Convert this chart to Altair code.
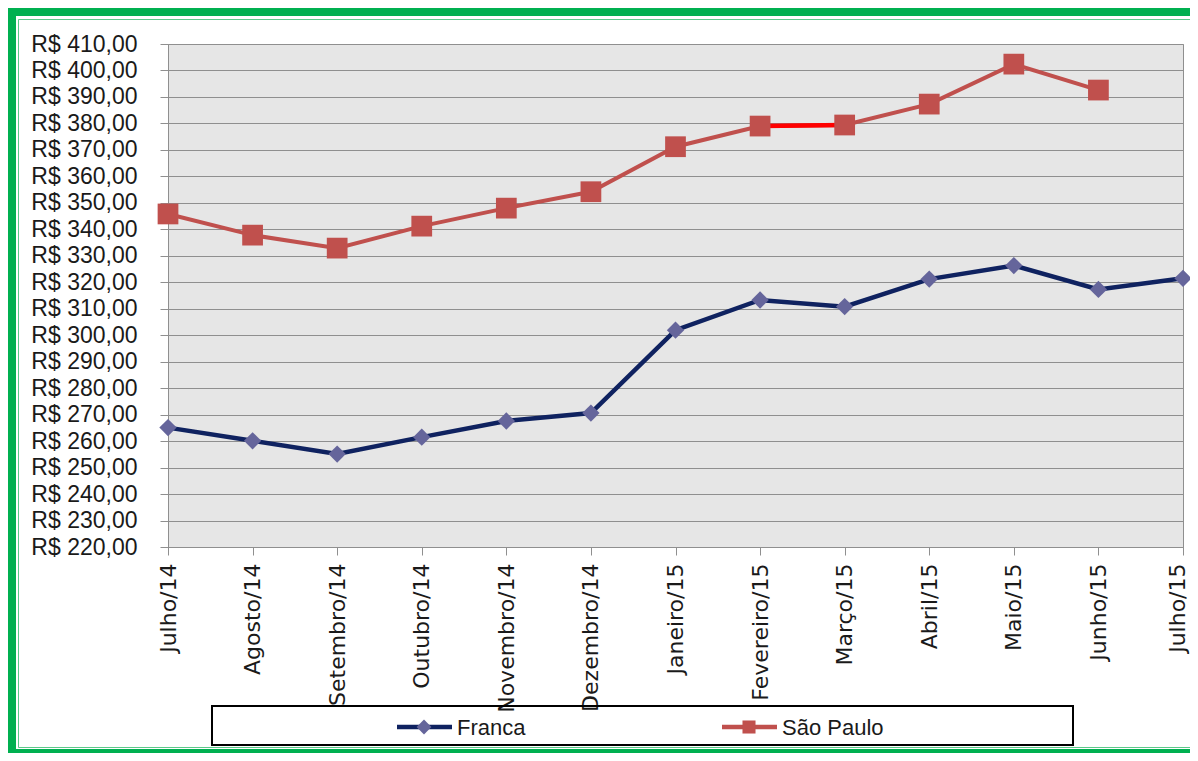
import altair as alt
import pandas as pd

months = ["Julho/14", "Agosto/14", "Setembro/14", "Outubro/14", "Novembro/14",
          "Dezembro/14", "Janeiro/15", "Fevereiro/15", "Março/15", "Abril/15",
          "Maio/15", "Junho/15", "Julho/15"]
series = ["Franca", "São Paulo"]
franca = [265.1, 260.1, 255.1, 261.5, 267.6, 270.6, 301.9, 313.3, 310.8, 321.2, 326.3, 317.3, 321.5]
sao_paulo = [345.8, 337.8, 332.9, 341.2, 348.0, 354.2, 371.2, 379.0, 379.4, 387.3, 402.4, 392.6, None]
highlight_months = ["Fevereiro/15", "Março/15"]
y_ticks = list(range(220, 411, 10))

df_f = pd.DataFrame({"mes": months, "valor": franca, "serie": series[0]})
df_s = pd.DataFrame({"mes": months, "valor": sao_paulo, "serie": series[1]}).dropna()
df_h = df_s[df_s["mes"].isin(highlight_months)]

W, H = 1015, 503
PL, PT = 160, 36
SVG_W, SVG_H = 1182, 745
GREEN = "#00B050"
NAVY = "#0F2260"
DIAM = "#65659B"
RED = "#C0504D"

last_label = months[-1]
x_enc = alt.X("mes:N", sort=months, scale=alt.Scale(type="point", padding=0),
              axis=alt.Axis(title=None, labelAngle=270, labelFont="DejaVu Sans",
                            labelFontSize=22, labelColor="#1A1A1A", labelPadding=8,
                            labelOffset={"condition": {"test": f"datum.value === '{last_label}'",
                                                       "value": -6}, "value": 0},
                            tickSize=8, tickColor="#8F8F8F", domainColor="#8F8F8F",
                            gridColor="#8F8F8F", labelOverlap=False))
y_enc = alt.Y("valor:Q", scale=alt.Scale(domain=[220, 410], nice=False, zero=False),
              axis=alt.Axis(title=None, values=y_ticks,
                            labelExpr="'R$ ' + replace(format(datum.value, '.2f'), '.', ',')",
                            labelFont="Liberation Sans", labelFontSize=23,
                            labelColor="#1A1A1A", labelPadding=23, tickSize=8,
                            tickColor="#8F8F8F", domainColor="#8F8F8F",
                            gridColor="#8F8F8F"))

f_line = alt.Chart(df_f).mark_line(color=NAVY, strokeWidth=4.5).encode(x=x_enc, y=y_enc)
f_pts = alt.Chart(df_f).mark_point(shape="diamond", filled=True, size=300, color=DIAM,
                                    opacity=1).encode(x=x_enc, y=y_enc)
s_line = alt.Chart(df_s).mark_line(color=RED, strokeWidth=4).encode(x=x_enc, y=y_enc)
s_hi = alt.Chart(df_h).mark_line(color="#FF0000", strokeWidth=4.5).encode(x=x_enc, y=y_enc)
s_pts = alt.Chart(df_s).mark_point(shape="square", filled=True, size=430, color=RED,
                                    opacity=1).encode(x=x_enc, y=y_enc)

one = pd.DataFrame({"a": [0]})


def box(x, x2, y, y2, **kw):
    return alt.Chart(one).mark_rect(**kw).encode(
        x=alt.value(x), x2=alt.value(x2), y=alt.value(y), y2=alt.value(y2))


bottom = SVG_H - PT  # plot-coordinate of svg bottom edge
right = SVG_W - PL
frame = [
    box(-PL, -PL + 8, -PT, bottom, color=GREEN),
    box(-PL, right, -PT, -PT + 8, color=GREEN),
    box(-PL, right, bottom - 4, bottom, color=GREEN),
    box(-149.5, right + 10, -24.5, bottom - 5.5, fill=None, fillOpacity=0,
        stroke="#5CC98A", strokeWidth=1),
]

# legend
leg_box = box(44, 905, 662, 701, fill=None, fillOpacity=0, stroke="black", strokeWidth=2)
ly = 683


def leg_item(name, x0, color, mcolor, shape, msize):
    line = alt.Chart(one).mark_rule(color=color, strokeWidth=4.5).encode(
        x=alt.value(x0), x2=alt.value(x0 + 55), y=alt.value(ly))
    mk = alt.Chart(one).mark_point(shape=shape, filled=True, size=msize, color=mcolor,
                                   opacity=1).encode(x=alt.value(x0 + 27), y=alt.value(ly))
    tx = alt.Chart(pd.DataFrame({"s": [name]})).mark_text(
        align="left", baseline="middle", font="Liberation Sans", fontSize=22,
        color="#1A1A1A").encode(text="s:N", x=alt.value(x0 + 60), y=alt.value(ly + 1))
    return [line, mk, tx]


legend = [leg_box] + leg_item(series[0], 229, NAVY, DIAM, "diamond", 220) \
    + leg_item(series[1], 554, RED, RED, "square", 170)

chart = alt.layer(
    f_line, f_pts, s_line, s_hi, s_pts, *legend, *frame
).properties(
    width=W, height=H,
    autosize=alt.AutoSizeParams(type="none"),
    padding={"left": PL, "top": PT, "right": SVG_W - PL - W, "bottom": SVG_H - PT - H},
    background="white",
).configure_view(
    fill="#E6E6E6", stroke="#8F8F8F", strokeWidth=1
).configure_axis(
    gridWidth=1, domainWidth=1, tickWidth=1
)

chart.save("out.html", embed_options={"renderer": "svg", "actions": False})
